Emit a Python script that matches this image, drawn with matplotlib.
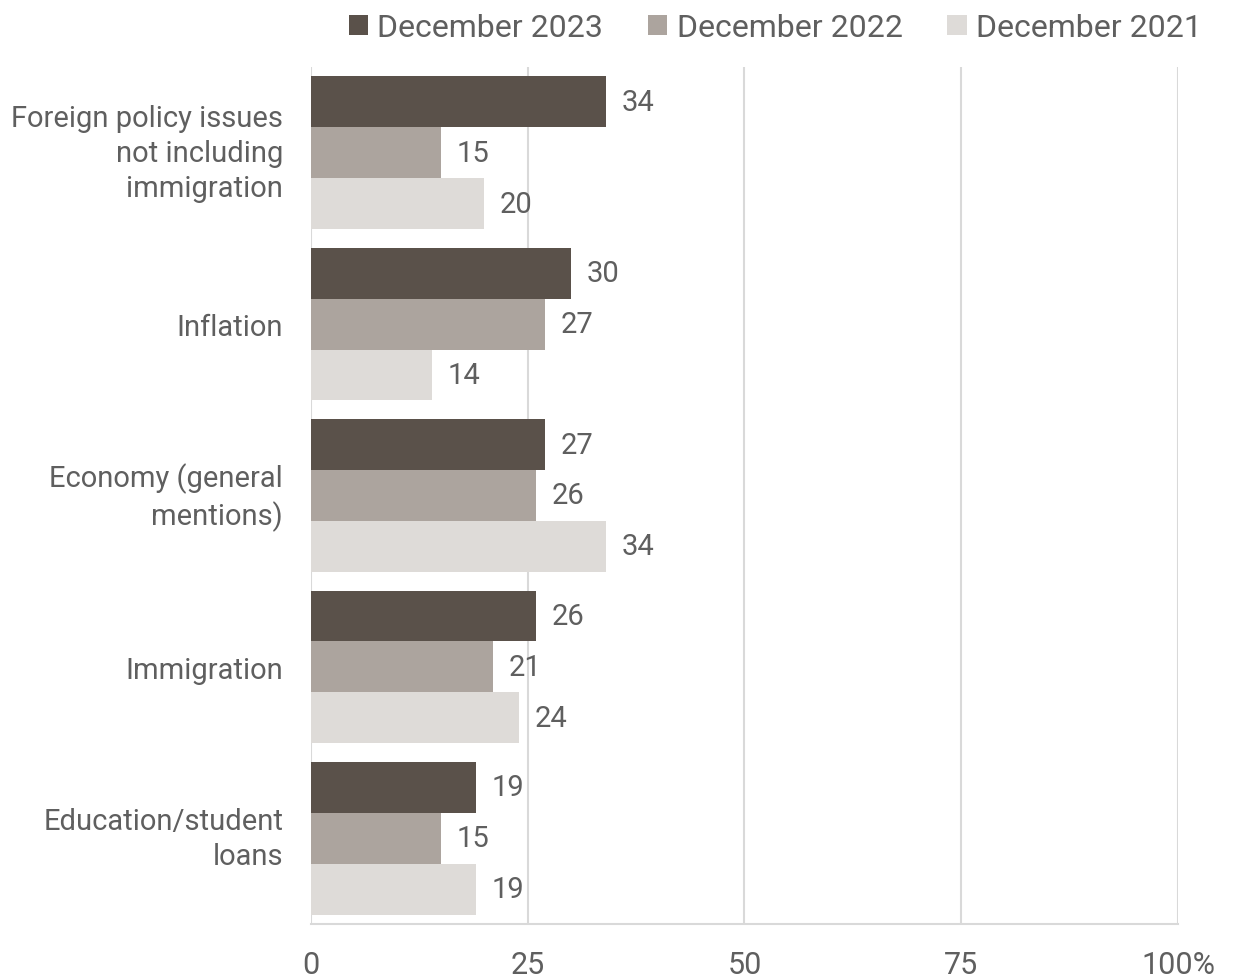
import matplotlib.pyplot as plt
import matplotlib.transforms as mtransforms
import numpy as np

plt.rcParams['font.family'] = ['Roboto', 'DejaVu Sans']

categories = ["Foreign policy issues\nnot including\nimmigration", "Inflation",
              "Economy (general\nmentions)", "Immigration", "Education/student\nloans"]
series_names = ["December 2023", "December 2022", "December 2021"]
dec_2023 = [34, 30, 27, 26, 19]
dec_2022 = [15, 27, 26, 21, 15]
dec_2021 = [20, 14, 34, 24, 19]
colors = ["#5a514a", "#aca49e", "#dedbd8"]
text_color = "#5f5f5f"

fig = plt.figure(figsize=(12.37, 9.78), dpi=100)
ax = fig.add_axes([0.2514, 0.0542, 0.7009, 0.8763])

y = np.arange(len(categories))
h = 0.297
for i, (vals, name, c) in enumerate(zip([dec_2023, dec_2022, dec_2021], series_names, colors)):
    pos = y + (i - 1) * h
    ax.barh(pos, vals, height=h, color=c, label=name, zorder=3)
    for p, v in zip(pos, vals):
        ax.text(v + 1.8, p, str(v), va='center', ha='left', fontsize=21, color=text_color)

ax.set_xlim(0, 100)
ax.set_ylim(len(categories) - 0.5, -0.5)
ax.set_xticks([0, 25, 50, 75, 100])
ax.set_xticklabels(["0", "25", "50", "75", "100%"])
ax.set_yticks(y)
ax.set_yticklabels(categories, linespacing=1.32)
ax.tick_params(axis='both', length=0, labelsize=21, labelcolor=text_color)
ax.tick_params(axis='x', pad=19, labelsize=22)
ax.tick_params(axis='y', pad=20)
# multi-line labels sit a little high in the original
for lab in ax.get_yticklabels():
    if "\n" in lab.get_text():
        lab.set_transform(lab.get_transform() +
                          mtransforms.ScaledTranslation(0, 6 / 100, fig.dpi_scale_trans))
ax.grid(axis='x', color='#d9d9d9', linewidth=1.5, zorder=0)
for s in ['top', 'right', 'left']:
    ax.spines[s].set_visible(False)
ax.spines['bottom'].set_color('#d9d9d9')
ax.spines['bottom'].set_linewidth(1.5)

leg = fig.legend(loc='upper right', bbox_to_anchor=(0.995, 1.015), ncol=3, frameon=False,
                 fontsize=23, handlelength=0.6, handleheight=0.6, handletextpad=0.3,
                 columnspacing=1.4)
for t in leg.get_texts():
    t.set_color(text_color)

fig.savefig("out.png", dpi=100)
